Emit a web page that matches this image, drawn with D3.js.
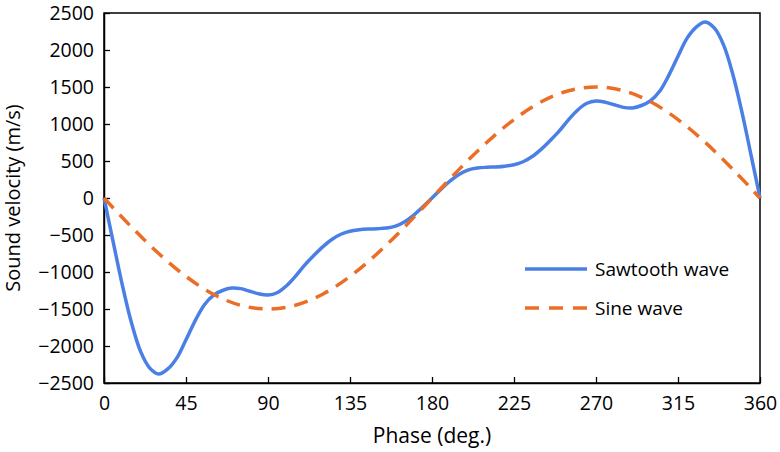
<!DOCTYPE html>
<html>
<head>
<meta charset="utf-8">
<script src="https://cdn.jsdelivr.net/npm/d3@7"></script>
<style>
  body { margin: 0; background: #fff; }
  text { font-family: "Open Sans", sans-serif; fill: #000; }
</style>
</head>
<body>
<svg id="chart" width="780" height="452"></svg>
<script>
// phase in degrees
var phase = [0, 5, 10, 15, 20, 25, 30, 35, 40, 45, 50, 55, 60, 65, 70, 75, 80, 85, 90,
  95, 100, 105, 110, 115, 120, 125, 130, 135, 140, 145, 150, 155, 160, 165, 170, 175, 180,
  185, 190, 195, 200, 205, 210, 215, 220, 225, 230, 235, 240, 245, 250, 255, 260, 265, 270,
  275, 280, 285, 290, 295, 300, 305, 310, 315, 320, 325, 330, 335, 340, 345, 350, 355, 360]

var sawtooth = [0, -590, -1170, -1680, -2070, -2295, -2378, -2310, -2160, -1915, -1660, -1445, -1315, -1250, -1217, -1225, -1260, -1295, -1310,
  -1280, -1190, -1060, -910, -780, -660, -560, -490, -450, -430, -420, -415, -405, -380, -320, -230, -120, 0,
  120, 230, 320, 380, 405, 415, 420, 430, 450, 490, 560, 660, 780, 910, 1060, 1190, 1280, 1310,
  1295, 1260, 1225, 1217, 1250, 1315, 1445, 1660, 1915, 2160, 2310, 2378, 2295, 2070, 1680, 1170, 590, 0]

var sinePhase = [0, 15, 30, 45, 60, 75, 90, 105, 120, 135, 150, 165, 180,
  195, 210, 225, 240, 255, 270, 285, 300, 315, 330, 345, 360]
var sine = [0, -390, -750, -1060, -1300, -1450, -1500, -1450, -1300, -1060, -750, -390, 0,
  390, 750, 1060, 1300, 1450, 1500, 1450, 1300, 1060, 750, 390, 0]

var xTicks = [0, 45, 90, 135, 180, 225, 270, 315, 360]
var yTicks = [-2500, -2000, -1500, -1000, -500, 0, 500, 1000, 1500, 2000, 2500]

var seriesNames = ['Sawtooth wave', 'Sine wave']
var seriesColors = ['#4a7fe6', '#ea6e26']

var margin = { left: 104, right: 20, top: 13, bottom: 69 }
var width = 780 - margin.left - margin.right
var height = 452 - margin.top - margin.bottom

var svg = d3.select('#chart')
var g = svg.append('g').attr('transform', 'translate(' + margin.left + ',' + margin.top + ')')

var x = d3.scaleLinear().domain([0, 360]).range([0, width])
var y = d3.scaleLinear().domain([-2500, 2500]).range([height, 0])

// frame
g.append('rect')
  .attr('width', width).attr('height', height)
  .attr('fill', 'none').attr('stroke', '#000').attr('stroke-width', 1.5)

var xAxis = g.append('g')
  .attr('transform', 'translate(0,' + height + ')')
  .call(d3.axisBottom(x).tickValues(xTicks).tickFormat(d3.format('d'))
    .tickSizeInner(-6).tickSizeOuter(0).tickPadding(13))
var yAxis = g.append('g')
  .call(d3.axisLeft(y).tickValues(yTicks).tickFormat(d3.format('d'))
    .tickSizeInner(-6).tickSizeOuter(0).tickPadding(10))

;[xAxis, yAxis].forEach(function (ax) {
  ax.select('.domain').attr('stroke', '#000').attr('stroke-width', 1.5)
  ax.selectAll('.tick line').attr('stroke', '#000').attr('stroke-width', 1.3)
  ax.selectAll('.tick text').attr('font-size', 19.5).attr('font-family', '"Open Sans", sans-serif').attr('fill', '#000')
})

var line = d3.line()
  .x(function (d) { return x(d[0]) })
  .y(function (d) { return y(d[1]) })
  .curve(d3.curveCatmullRom.alpha(0.5))

g.append('path')
  .datum(d3.zip(phase, sawtooth))
  .attr('d', line)
  .attr('fill', 'none')
  .attr('stroke', seriesColors[0])
  .attr('stroke-width', 3.5)

g.append('path')
  .datum(d3.zip(sinePhase, sine))
  .attr('d', line)
  .attr('fill', 'none')
  .attr('stroke', seriesColors[1])
  .attr('stroke-width', 3.5)
  .attr('stroke-dasharray', '14,9')

// legend
var legend = g.append('g').attr('transform', 'translate(' + (525 - margin.left) + ',' + (269 - margin.top) + ')')
seriesNames.forEach(function (name, i) {
  var row = legend.append('g').attr('transform', 'translate(0,' + (i * 39) + ')')
  row.append('line')
    .attr('x1', 0).attr('x2', 62)
    .attr('stroke', seriesColors[i])
    .attr('stroke-width', 3.5)
    .attr('stroke-dasharray', i === 1 ? '14,10' : null)
  row.append('text')
    .attr('x', 70).attr('dy', '0.35em')
    .attr('font-size', 19)
    .text(name)
})

// axis titles
svg.append('text')
  .attr('x', margin.left + width / 2).attr('y', 443)
  .attr('text-anchor', 'middle')
  .attr('font-size', 21)
  .text('Phase (deg.)')

svg.append('text')
  .attr('transform', 'translate(20,' + (margin.top + height / 2) + ') rotate(-90)')
  .attr('text-anchor', 'middle')
  .attr('font-size', 20)
  .text('Sound velocity (m/s)')
</script>
</body>
</html>
